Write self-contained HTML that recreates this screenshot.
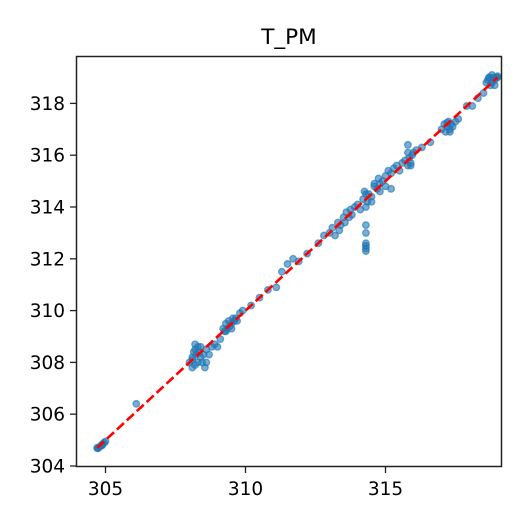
<!DOCTYPE html>
<html><head><meta charset="utf-8"><style>
body{margin:0;background:#fff}
svg text{font-family:"DejaVu Sans","Liberation Sans",sans-serif;fill:#000}
</style></head><body>
<svg id="chart" width="525" height="525">
<rect width="525" height="525" fill="#fff"/>
<text x="289" y="44" font-size="21.5" text-anchor="middle">T_PM</text>
<g id="pts"></g>
<g id="fit"></g>
<rect x="76.5" y="56.5" width="425" height="410" fill="none" stroke="#222" stroke-width="1.5"/>
<g id="xt"></g>
<g id="yt"></g>
</svg>
<script>
const xTicks=[305,310,315];
const yTicks=[304,306,308,310,312,314,316,318];
const fitLine=[304.7,319.0];
const xVals=[304.7,304.75,304.8,304.85,304.9,304.95,305.0,304.72,304.88,
306.1,
308.0,308.1,308.1,308.15,308.2,308.2,308.25,308.3,308.3,308.35,308.4,308.45,308.5,308.55,308.6,308.7,308.2,308.4,308.1,308.6,308.8,308.9,309.0,309.1,
309.2,309.25,309.3,309.35,309.4,309.45,309.5,309.55,309.6,309.65,309.3,309.5,309.7,309.8,309.9,
310.2,310.5,310.8,311.1,311.3,311.5,311.7,311.9,312.2,
312.6,312.8,313.0,313.1,313.2,313.3,313.35,313.4,313.5,313.55,313.6,313.7,313.75,313.8,313.9,314.0,314.1,
314.3,314.3,314.3,314.3,314.3,314.3,314.3,314.3,314.2,314.25,314.35,314.4,314.5,314.6,314.7,314.75,314.8,314.9,315.0,315.1,315.2,315.3,315.4,315.5,315.6,315.7,314.5,314.8,315.0,315.2,314.6,
315.8,315.8,315.85,315.9,315.95,316.0,315.8,315.9,316.1,316.3,316.6,
317.0,317.1,317.15,317.2,317.25,317.3,317.35,317.4,317.5,317.3,317.2,317.6,317.9,
318.1,318.3,318.5,
318.6,318.65,318.7,318.75,318.8,318.85,318.9,318.95,319.0,318.7,318.8,318.9,319.0];
const yVals=[304.7,304.7,304.75,304.8,304.85,304.9,304.95,304.68,304.8,
306.4,
308.0,307.8,308.2,308.4,307.9,308.5,308.3,308.0,308.6,308.4,308.2,308.0,308.3,307.8,308.5,308.3,308.7,308.6,308.1,308.0,308.6,308.7,308.6,308.9,
309.3,309.2,309.5,309.3,309.6,309.4,309.5,309.7,309.6,309.7,309.2,309.3,309.6,309.9,310.0,
310.2,310.5,310.8,310.9,311.5,311.8,312.0,311.9,312.2,
312.6,312.9,313.0,313.2,312.9,313.4,313.1,313.3,313.6,313.4,313.8,313.6,313.9,313.7,314.0,314.1,313.9,
312.3,312.4,312.5,312.6,313.0,313.3,314.0,314.5,314.3,314.6,314.2,314.5,314.4,314.8,314.7,315.1,314.9,315.0,315.2,315.4,315.3,315.5,315.6,315.4,315.7,315.8,314.2,314.6,314.8,314.7,314.9,
315.6,316.1,315.9,315.7,316.0,316.1,316.4,315.6,316.2,316.3,316.5,
317.0,317.2,316.9,317.1,317.3,317.0,317.2,317.1,317.3,316.9,317.25,317.4,317.9,
317.9,318.2,318.4,
318.8,318.9,319.0,318.7,318.8,319.0,318.9,319.0,319.05,319.0,319.1,318.7,319.0];
const ns="http://www.w3.org/2000/svg";
function sx(v){return 105.5+(v-305)*28;}
function sy(v){return 466-(v-304)*25.9;}
const pts=document.getElementById('pts');
for(let i=0;i<xVals.length;i++){
 const c=document.createElementNS(ns,'circle');
 c.setAttribute('cx',sx(xVals[i]));c.setAttribute('cy',sy(yVals[i]));c.setAttribute('r',3.3);
 c.setAttribute('fill','#1f77b4');c.setAttribute('fill-opacity','0.6');
 c.setAttribute('stroke','#1f77b4');c.setAttribute('stroke-opacity','0.6');c.setAttribute('stroke-width','1.3');
 
 
 pts.appendChild(c);
}
const fit=document.getElementById('fit');
const ln=document.createElementNS(ns,'line');
ln.setAttribute('x1',sx(fitLine[0]));ln.setAttribute('y1',sy(fitLine[0]));
ln.setAttribute('x2',sx(fitLine[1]));ln.setAttribute('y2',sy(fitLine[1]));
ln.setAttribute('stroke','#ff0000');ln.setAttribute('stroke-width','2.6');ln.setAttribute('stroke-dasharray','9.5,4');


fit.appendChild(ln);
const xt=document.getElementById('xt');
xTicks.forEach(v=>{
 const l=document.createElementNS(ns,'line');
 l.setAttribute('x1',sx(v));l.setAttribute('x2',sx(v));l.setAttribute('y1',466.5);l.setAttribute('y2',473);l.setAttribute('stroke','#222');l.setAttribute('stroke-width','1.3');
 
 
 xt.appendChild(l);
 const t=document.createElementNS(ns,'text');
 t.setAttribute('x',sx(v));t.setAttribute('y',495);t.setAttribute('font-size','18.5');t.setAttribute('text-anchor','middle');
 t.textContent=v;
 
 
 xt.appendChild(t);
});
const yt=document.getElementById('yt');
yTicks.forEach(v=>{
 const l=document.createElementNS(ns,'line');
 l.setAttribute('x1',70);l.setAttribute('x2',76.5);l.setAttribute('y1',sy(v));l.setAttribute('y2',sy(v));l.setAttribute('stroke','#222');l.setAttribute('stroke-width','1.3');
 
 
 yt.appendChild(l);
 const t=document.createElementNS(ns,'text');
 t.setAttribute('x',65);t.setAttribute('y',sy(v)+6.5);t.setAttribute('font-size','18.5');t.setAttribute('text-anchor','end');
 t.textContent=v;
 
 
 yt.appendChild(t);
});
</script>
</body></html>
